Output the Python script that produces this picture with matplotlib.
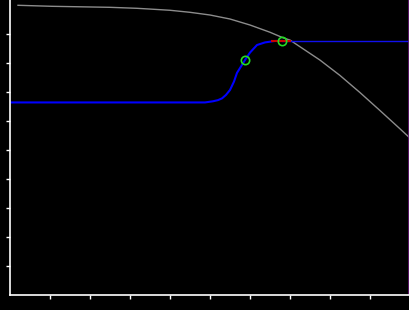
import matplotlib
matplotlib.use("Agg")
import matplotlib.pyplot as plt

# gray decreasing curve
gray_x = [0.2, 1.05, 2.5, 3.175, 3.5, 4.0, 4.5, 5.0, 5.5, 6.0, 6.5, 6.825, 7.0, 7.25, 7.75, 8.25, 8.75, 9.25, 9.75, 10.0]
gray_y = [9.99, 9.955, 9.92, 9.886, 9.86, 9.818, 9.748, 9.655, 9.517, 9.31, 9.06, 8.87, 8.79, 8.56, 8.10, 7.57, 6.98, 6.36, 5.73, 5.41]

# blue step curve
blue_x = [0.0, 4.875, 5.075, 5.2, 5.3, 5.4, 5.5, 5.6, 5.675, 5.875, 6.0, 6.175, 6.375, 6.625, 6.8]
blue_y = [6.64, 6.64, 6.68, 6.72, 6.78, 6.9, 7.07, 7.36, 7.66, 8.10, 8.36, 8.62, 8.71, 8.76, 8.76]

# thin blue continuation
blue2_x = [6.8, 10.0]
blue2_y = [8.75, 8.75]

# red short segment
red_x = [6.55, 7.0]
red_y = [8.76, 8.76]

# green markers
pts_x = [5.875, 6.8]
pts_y = [8.10, 8.76]

fig = plt.figure(figsize=(4.1, 3.1), dpi=100, facecolor="black")
ax = fig.add_axes([10/410, 15/310, 400/410, 295/310], facecolor="black")

ax.plot(gray_x, gray_y, color="#8c8c8c", lw=1.0)
ax.plot(blue2_x, blue2_y, color="#1010ee", lw=1.0)
ax.plot(blue_x, blue_y, color="#0000ff", lw=1.5)
ax.plot(red_x, red_y, color="#cc0000", lw=1.5)
ax.plot(pts_x, pts_y, "o", ms=6, mfc="none", mec="#22dd22", mew=1.2)
ax.axvline(9.985, color="#6a1a7a", lw=1.2)

ax.set_xlim(0, 10)
ax.set_ylim(0, 295/29)
ax.set_xticks(range(1, 10))
ax.set_yticks(range(1, 10))
ax.set_xticklabels([])
ax.set_yticklabels([])
ax.tick_params(colors="white", length=3, width=1, direction="out")
for s in ["top", "right"]:
    ax.spines[s].set_visible(False)
for s in ["left", "bottom"]:
    ax.spines[s].set_color("white")
    ax.spines[s].set_linewidth(1.2)

fig.savefig("out.png", dpi=100, facecolor="black")
